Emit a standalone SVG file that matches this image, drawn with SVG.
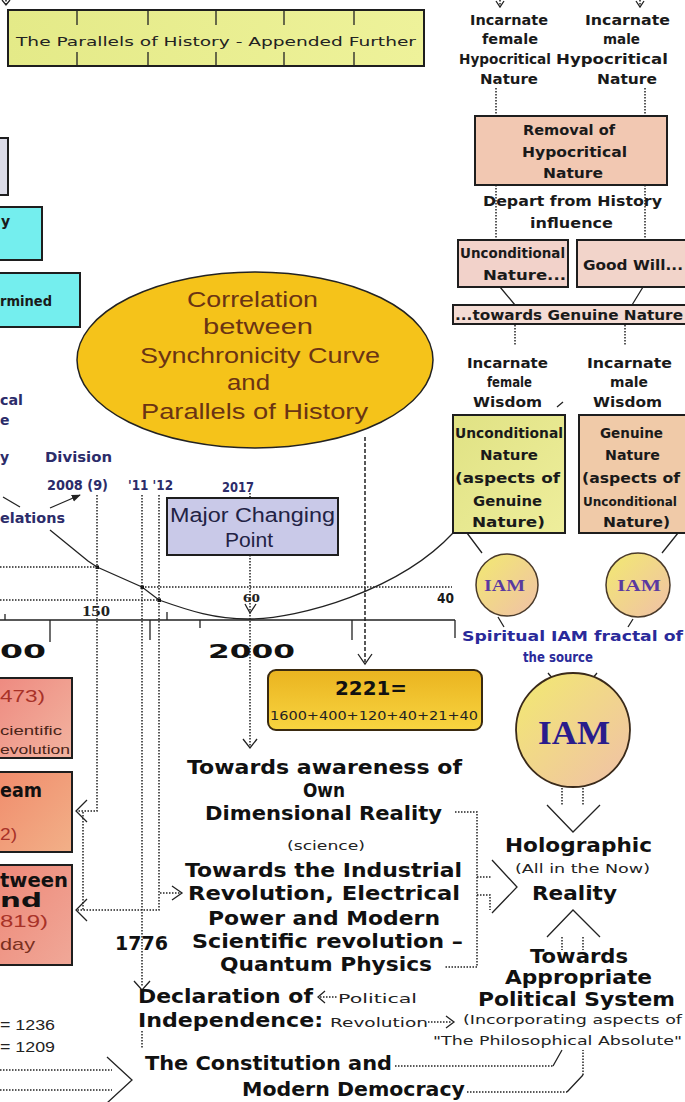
<svg xmlns="http://www.w3.org/2000/svg" width="685" height="1102" viewBox="0 0 685 1102">
<defs>
<style>
.bx{stroke:#1e1e1e;stroke-width:2}
.dot{fill:none;stroke:#222;stroke-width:1.5;stroke-dasharray:1.5 1.5}
.dash{fill:none;stroke:#222;stroke-width:1.5;stroke-dasharray:4 2}
.ln{fill:none;stroke:#222;stroke-width:1.3}
.hv{font-family:"DejaVu Sans",sans-serif;font-weight:bold;fill:#111;font-size:19px}
.gb{font-family:"DejaVu Sans",sans-serif;font-weight:bold;font-size:14px;fill:#1a1a1a}
.rg{font-family:"DejaVu Sans",sans-serif;font-size:13px;fill:#222}
.ar{font-family:"Liberation Sans",Arial,sans-serif}
.el{font-family:"Liberation Sans",Arial,sans-serif;font-size:22px;fill:#6a3414}
.nv{fill:#2c2c6a}
.bl{fill:#2a2a9a}
.rd{fill:#a83228}
.iam{font-family:"Liberation Serif","DejaVu Serif",serif;font-weight:bold}
</style>
<linearGradient id="gBanner" x1="0" y1="0" x2="1" y2="0"><stop offset="0" stop-color="#e4ea88"/><stop offset="1" stop-color="#eef29a"/></linearGradient>
<linearGradient id="gGold" x1="0" y1="0" x2="0" y2="1"><stop offset="0" stop-color="#eab420"/><stop offset="1" stop-color="#f8d440"/></linearGradient>
<linearGradient id="gA" x1="0" y1="0" x2="1" y2="1"><stop offset="0" stop-color="#ee8a80"/><stop offset="1" stop-color="#f2b4a0"/></linearGradient>
<linearGradient id="gB" x1="0" y1="0" x2="1" y2="1"><stop offset="0" stop-color="#f08c6c"/><stop offset="1" stop-color="#f2b088"/></linearGradient>
<linearGradient id="gC" x1="0" y1="0" x2="1" y2="1"><stop offset="0" stop-color="#ee8878"/><stop offset="1" stop-color="#f0a898"/></linearGradient>
<linearGradient id="gIam" x1="0" y1="0" x2="1" y2="1"><stop offset="0" stop-color="#f2ea70"/><stop offset="1" stop-color="#f0c0a8"/></linearGradient>
<linearGradient id="gGreen" x1="0" y1="0" x2="1" y2="1"><stop offset="0" stop-color="#e0e284"/><stop offset="1" stop-color="#eeee9c"/></linearGradient>
<marker id="ah" viewBox="0 0 10 10" refX="9" refY="5" markerWidth="7" markerHeight="7" orient="auto"><path d="M0,1 L10,5 L0,9 Z" fill="#222"/></marker>
</defs>
<rect width="685" height="1102" fill="#ffffff"/>

<g id="connectors">
  <path class="dot" d="M6,0 V4 M500,0 V6 M640,0 V6"/>
  <path class="ln" d="M2,0 L6,5 L10,0 M496,1 L500,7 L504,1 M636,1 L640,7 L644,1"/>
  <path class="dot" d="M496,88 V116 M645,88 V116 M496,185 V240 M645,185 V240 M515,325 V345 M625,325 V345"/>
  <path class="ln" d="M500,287 L515,305 M643,287 L632,305 M557,407 L563,402"/>
  <path class="ln" d="M467,533 L482,553 M678,533 L662,553 M498,617 L504,627 M633,619 L628,627 M548,673 L553,679 M597,673 L592,679"/>
  <path class="ln" d="M3,497 L20,507"/>
  <path class="ln" d="M50,530 L88,561 L97,567 L142,587 L159,600 C190,611 215,619 248,619 C300,619 400,590 453,533"/>
  <path class="ln" d="M50,508 L80,495" marker-end="url(#ah)"/>
  <rect x="95.5" y="565.5" width="3.5" height="3.5" fill="#111"/>
  <rect x="140.5" y="585.5" width="3.5" height="3.5" fill="#111"/>
  <rect x="157.5" y="598.5" width="3.5" height="3.5" fill="#111"/>
  <path class="dot" d="M0,567 H97 M142,587 H452 M0,600 H159"/>
  <path class="ln" stroke-width="1.6" d="M0,620 H455 M5,614 V620 M50,620 V642 M150,620 V640 M167,612 V620 M200,620 V628 M352,620 V640 M455,620 V638"/>
  <path class="dot" d="M97,495 V811 H76 M83,812 V910 M142,495 V987 M159,495 V910 H76 M160,893 H181 M250,493 V498 M250,555 V746"/>
  <path class="ln" d="M87,800 L76,811 L87,822 M87,899 L76,910 L87,921 M172,886 L182,893 L172,900 M134,981 L142,990 L150,981 M243,739 L250,748 L257,739 M245,604 L250,613 L256,604"/>
  <path class="dash" d="M365,437 V662"/>
  <path class="ln" d="M358,654 L365,664 L372,654"/>
  <path class="dot" d="M455,812 H477 V967 H445 M477,877 H492 M477,895 H490 V910"/>
  <path class="ln" d="M492,860 L517,887 L492,913"/>
  <path class="dot" d="M562,788 V805 M583,788 V805 M562,937 V950 M583,937 V950"/>
  <path class="ln" d="M547,805 L573,832 L600,805 M547,937 L573,910 L600,937"/>
  <path class="dot" d="M142,1031 V1048 M320,997 H338 M428,1022 H452 M395,1066 H553 M467,1092 H567 M583,1075 V1050 M0,1070 H112 M0,1090 H112"/>
  <path class="ln" d="M325,991 L318,997 L325,1003 M446,1016 L454,1022 L446,1028 M553,1066 L562,1050 M567,1092 L583,1075 M107,1057 L132,1080 L107,1103"/>
</g>

<g id="banner">
  <rect class="bx" x="8" y="10" width="416" height="56" fill="url(#gBanner)"/>
  <path class="ln" stroke-width="1.6" d="M77,10 V25 M148,10 V25 M216,10 V25 M284,10 V25 M354,10 V25 M77,52 V66 M148,52 V66 M216,52 V66 M284,52 V66 M354,52 V66"/>
  <text class="rg" x="16" y="46" font-size="16" textLength="400" lengthAdjust="spacingAndGlyphs" fill="#1a1a1a">The Parallels of History - Appended Further</text>
</g>

<g id="hyp-female">
  <text class="gb" x="470" y="25" textLength="78" lengthAdjust="spacingAndGlyphs">Incarnate</text>
  <text class="gb" x="482" y="44" textLength="56" lengthAdjust="spacingAndGlyphs">female</text>
  <text class="gb" x="459" y="64" textLength="92" lengthAdjust="spacingAndGlyphs">Hypocritical</text>
  <text class="gb" x="480" y="84" textLength="58" lengthAdjust="spacingAndGlyphs">Nature</text>
</g>
<g id="hyp-male">
  <text class="gb" x="585" y="25" textLength="85" lengthAdjust="spacingAndGlyphs">Incarnate</text>
  <text class="gb" x="603" y="44" textLength="37" lengthAdjust="spacingAndGlyphs">male</text>
  <text class="gb" x="556" y="64" textLength="112" lengthAdjust="spacingAndGlyphs">Hypocritical</text>
  <text class="gb" x="597" y="84" textLength="60" lengthAdjust="spacingAndGlyphs">Nature</text>
</g>

<g id="removal">
  <rect class="bx" x="475" y="116" width="192" height="69" fill="#f2c8b2"/>
  <text class="gb" x="523" y="135" textLength="92" lengthAdjust="spacingAndGlyphs" fill="#3a1e1e">Removal of</text>
  <text class="gb" x="522" y="157" textLength="105" lengthAdjust="spacingAndGlyphs" fill="#3a1e1e">Hypocritical</text>
  <text class="gb" x="543" y="178" textLength="60" lengthAdjust="spacingAndGlyphs" fill="#3a1e1e">Nature</text>
</g>
<g id="depart">
  <text class="gb" x="483" y="206" textLength="179" lengthAdjust="spacingAndGlyphs" fill="#34347a">Depart from History</text>
  <text class="gb" x="530" y="228" textLength="83" lengthAdjust="spacingAndGlyphs" fill="#34347a">influence</text>
</g>
<g id="uncond-small">
  <rect class="bx" x="458" y="240" width="110" height="47" fill="#f2d2ca"/>
  <text class="gb" x="460" y="258" font-size="13" textLength="105" lengthAdjust="spacingAndGlyphs" fill="#2a1a1a">Unconditional</text>
  <text class="gb" x="483" y="280" font-size="13" textLength="83" lengthAdjust="spacingAndGlyphs" fill="#2a1a1a">Nature...</text>
</g>
<g id="goodwill">
  <rect class="bx" x="577" y="240" width="115" height="47" fill="#f2d4ca"/>
  <text class="gb" x="583" y="270" font-size="13" textLength="100" lengthAdjust="spacingAndGlyphs" fill="#2a1a1a">Good Will...</text>
</g>
<g id="towards-genuine">
  <rect class="bx" x="453" y="305" width="240" height="19" fill="#f4dcd4"/>
  <text class="gb" x="455" y="320" font-size="13" textLength="228" lengthAdjust="spacingAndGlyphs" fill="#4a1010">...towards Genuine Nature</text>
</g>
<g id="wisdom-female">
  <text class="gb" x="467" y="368" textLength="81" lengthAdjust="spacingAndGlyphs">Incarnate</text>
  <text class="gb" x="487" y="387" textLength="45" lengthAdjust="spacingAndGlyphs">female</text>
  <text class="gb" x="473" y="407" textLength="69" lengthAdjust="spacingAndGlyphs">Wisdom</text>
</g>
<g id="wisdom-male">
  <text class="gb" x="587" y="368" textLength="85" lengthAdjust="spacingAndGlyphs">Incarnate</text>
  <text class="gb" x="610" y="387" textLength="38" lengthAdjust="spacingAndGlyphs">male</text>
  <text class="gb" x="593" y="407" textLength="69" lengthAdjust="spacingAndGlyphs">Wisdom</text>
</g>
<g id="uncond-nature">
  <rect class="bx" x="453" y="415" width="112" height="118" fill="url(#gGreen)"/>
  <g class="gb" font-size="13" fill="#2a1a1a">
  <text x="455" y="438" textLength="108" lengthAdjust="spacingAndGlyphs">Unconditional</text>
  <text x="480" y="460" textLength="58" lengthAdjust="spacingAndGlyphs">Nature</text>
  <text x="455" y="483" textLength="105" lengthAdjust="spacingAndGlyphs">(aspects of</text>
  <text x="473" y="506" textLength="69" lengthAdjust="spacingAndGlyphs">Genuine</text>
  <text x="472" y="527" textLength="73" lengthAdjust="spacingAndGlyphs">Nature)</text>
  </g>
</g>
<g id="genuine-nature">
  <rect class="bx" x="579" y="415" width="112" height="118" fill="#f0caa8"/>
  <g class="gb" font-size="13" fill="#2a1a1a">
  <text x="600" y="438" textLength="63" lengthAdjust="spacingAndGlyphs">Genuine</text>
  <text x="605" y="460" textLength="55" lengthAdjust="spacingAndGlyphs">Nature</text>
  <text x="582" y="483" textLength="98" lengthAdjust="spacingAndGlyphs">(aspects of</text>
  <text x="583" y="506" font-size="12" textLength="94" lengthAdjust="spacingAndGlyphs">Unconditional</text>
  <text x="603" y="527" textLength="67" lengthAdjust="spacingAndGlyphs">Nature)</text>
  </g>
</g>
<g id="iam-left">
  <circle cx="507" cy="585" r="31" fill="url(#gIam)" stroke="#4a3a2a" stroke-width="1.5"/>
  <text class="iam" x="484" y="591" font-size="16" textLength="41" lengthAdjust="spacingAndGlyphs" fill="#5a3aa0">IAM</text>
</g>
<g id="iam-right">
  <circle cx="638" cy="585" r="32" fill="url(#gIam)" stroke="#4a3a2a" stroke-width="1.5"/>
  <text class="iam" x="617" y="591" font-size="16" textLength="44" lengthAdjust="spacingAndGlyphs" fill="#5a3aa0">IAM</text>
</g>
<g id="spiritual">
  <text class="gb bl" x="462" y="641" textLength="221" lengthAdjust="spacingAndGlyphs">Spiritual IAM fractal of</text>
  <text class="gb bl" x="523" y="662" textLength="70" lengthAdjust="spacingAndGlyphs">the source</text>
</g>
<g id="iam-big">
  <circle cx="573" cy="730" r="57" fill="url(#gIam)" stroke="#3a2a1a" stroke-width="1.8"/>
  <text class="iam" x="538" y="744" font-size="34" textLength="72" lengthAdjust="spacingAndGlyphs" fill="#2a1c8c">IAM</text>
</g>
<g id="holographic">
  <text class="hv" x="505" y="852" textLength="147" lengthAdjust="spacingAndGlyphs">Holographic</text>
  <text class="rg" x="515" y="873" textLength="135" lengthAdjust="spacingAndGlyphs">(All in the Now)</text>
  <text class="hv" x="532" y="900" textLength="85" lengthAdjust="spacingAndGlyphs">Reality</text>
</g>
<g id="political-system">
  <text class="hv" x="530" y="963" textLength="98" lengthAdjust="spacingAndGlyphs">Towards</text>
  <text class="hv" x="505" y="984" textLength="147" lengthAdjust="spacingAndGlyphs">Appropriate</text>
  <text class="hv" x="478" y="1006" textLength="197" lengthAdjust="spacingAndGlyphs">Political System</text>
  <text class="rg" x="463" y="1024" textLength="219" lengthAdjust="spacingAndGlyphs">(Incorporating aspects of</text>
  <text class="rg" x="433" y="1045" textLength="249" lengthAdjust="spacingAndGlyphs">"The Philosophical Absolute"</text>
</g>

<g id="left-boxes-top">
  <rect class="bx" x="-2" y="138" width="10" height="57" fill="#dcdce8"/>
  <rect class="bx" x="-2" y="207" width="44" height="53" fill="#74eeee"/>
  <text class="gb" x="1" y="226" fill="#1a1a4a">y</text>
  <rect class="bx" x="-2" y="273" width="82" height="54" fill="#74eeee"/>
  <text class="gb" x="0" y="306" font-size="13" textLength="52" lengthAdjust="spacingAndGlyphs" fill="#1a1a4a">rmined</text>
</g>
<g id="left-labels">
  <text class="gb nv" x="0" y="405" textLength="23" lengthAdjust="spacingAndGlyphs">cal</text>
  <text class="gb nv" x="0" y="425">e</text>
  <text class="gb nv" x="0" y="462">y</text>
  <text class="gb nv" x="0" y="523" textLength="65" lengthAdjust="spacingAndGlyphs">elations</text>
  <text class="gb nv" x="45" y="462" textLength="67" lengthAdjust="spacingAndGlyphs">Division</text>
  <text class="gb nv" x="47" y="490" font-size="13" textLength="61" lengthAdjust="spacingAndGlyphs">2008 (9)</text>
  <text class="gb nv" x="128" y="490" font-size="13" textLength="45" lengthAdjust="spacingAndGlyphs">'11 '12</text>
  <text class="gb nv" x="222" y="492" font-size="13" textLength="32" lengthAdjust="spacingAndGlyphs">2017</text>
</g>
<g id="correlation">
  <ellipse cx="255" cy="360" rx="178" ry="88" fill="#f5c31a" stroke="#222" stroke-width="1.5"/>
  <text class="el" x="187" y="307" textLength="131" lengthAdjust="spacingAndGlyphs">Correlation</text>
  <text class="el" x="203" y="334" textLength="110" lengthAdjust="spacingAndGlyphs">between</text>
  <text class="el" x="140" y="363" textLength="240" lengthAdjust="spacingAndGlyphs">Synchronicity Curve</text>
  <text class="el" x="227" y="390" textLength="43" lengthAdjust="spacingAndGlyphs">and</text>
  <text class="el" x="141" y="419" textLength="227" lengthAdjust="spacingAndGlyphs">Parallels of History</text>
</g>
<g id="major-changing">
  <rect class="bx" x="167" y="498" width="171" height="57" fill="#c9c9e8"/>
  <text class="ar" x="170" y="522" font-size="20" textLength="165" lengthAdjust="spacingAndGlyphs" fill="#222244">Major Changing</text>
  <text class="ar" x="225" y="547" font-size="20" textLength="48" lengthAdjust="spacingAndGlyphs" fill="#222244">Point</text>
</g>
<g id="axis-labels">
  <text class="iam" x="82" y="616" font-size="15" font-weight="normal" textLength="28" lengthAdjust="spacingAndGlyphs" fill="#222">150</text>
  <text class="iam" x="243" y="602" font-size="13" font-weight="normal" textLength="17" lengthAdjust="spacingAndGlyphs" fill="#222">60</text>
  <text class="gb" x="437" y="603" textLength="17" lengthAdjust="spacingAndGlyphs">40</text>
  <text class="hv" x="0" y="658" font-size="30" textLength="46" lengthAdjust="spacingAndGlyphs">00</text>
  <text class="hv" x="208" y="658" font-size="30" textLength="87" lengthAdjust="spacingAndGlyphs">2000</text>
</g>
<g id="box-1473">
  <rect class="bx" x="-2" y="678" width="74" height="80" fill="url(#gA)"/>
  <text class="ar rd" x="0" y="702" font-size="17" textLength="45" lengthAdjust="spacingAndGlyphs">473)</text>
  <text class="ar" x="0" y="735" font-size="13" textLength="62" lengthAdjust="spacingAndGlyphs" fill="#4a2418">cientific</text>
  <text class="ar" x="0" y="754" font-size="13" textLength="70" lengthAdjust="spacingAndGlyphs" fill="#4a2418">evolution</text>
</g>
<g id="box-dream">
  <rect class="bx" x="-2" y="772" width="74" height="80" fill="url(#gB)"/>
  <text class="hv" x="0" y="797" font-size="17" textLength="42" lengthAdjust="spacingAndGlyphs">eam</text>
  <text class="ar rd" x="0" y="840" font-size="17" textLength="17" lengthAdjust="spacingAndGlyphs">2)</text>
</g>
<g id="box-1819">
  <rect class="bx" x="-2" y="865" width="74" height="100" fill="url(#gC)"/>
  <text class="hv" x="0" y="887" font-size="17" textLength="68" lengthAdjust="spacingAndGlyphs">tween</text>
  <text class="hv" x="0" y="907" font-size="17" textLength="42" lengthAdjust="spacingAndGlyphs">nd</text>
  <text class="ar rd" x="0" y="927" font-size="17" textLength="48" lengthAdjust="spacingAndGlyphs">819)</text>
  <text class="ar" x="0" y="950" font-size="17" textLength="35" lengthAdjust="spacingAndGlyphs" fill="#7a3020">day</text>
</g>
<g id="sums">
  <text class="ar" x="0" y="1030" font-size="14" textLength="55" lengthAdjust="spacingAndGlyphs" fill="#222">= 1236</text>
  <text class="ar" x="0" y="1052" font-size="14" textLength="55" lengthAdjust="spacingAndGlyphs" fill="#222">= 1209</text>
</g>
<g id="box-2221">
  <rect x="268" y="670" width="214" height="60" rx="8" fill="url(#gGold)" stroke="#3a2a10" stroke-width="2"/>
  <text class="hv" x="335" y="695" font-size="20" textLength="72" lengthAdjust="spacingAndGlyphs" fill="#7a1212">2221=</text>
  <text class="rg" x="270" y="720" font-size="11" textLength="208" lengthAdjust="spacingAndGlyphs" fill="#7a1212">1600+400+120+40+21+40</text>
</g>
<g id="awareness">
  <text class="hv" x="187" y="774" textLength="275" lengthAdjust="spacingAndGlyphs">Towards awareness of</text>
  <text class="hv" x="303" y="797" textLength="42" lengthAdjust="spacingAndGlyphs">Own</text>
  <text class="hv" x="205" y="820" textLength="237" lengthAdjust="spacingAndGlyphs">Dimensional Reality</text>
</g>
<g id="industrial">
  <text class="rg" x="287" y="850" textLength="78" lengthAdjust="spacingAndGlyphs">(science)</text>
  <text class="hv" x="185" y="877" textLength="277" lengthAdjust="spacingAndGlyphs">Towards the Industrial</text>
  <text class="hv" x="188" y="900" textLength="272" lengthAdjust="spacingAndGlyphs">Revolution, Electrical</text>
  <text class="hv" x="208" y="925" textLength="232" lengthAdjust="spacingAndGlyphs">Power and Modern</text>
  <text class="hv" x="192" y="948" textLength="271" lengthAdjust="spacingAndGlyphs">Scientific revolution –</text>
  <text class="hv" x="220" y="971" textLength="212" lengthAdjust="spacingAndGlyphs">Quantum Physics</text>
</g>
<g id="year-1776">
  <text class="hv" x="115" y="950" textLength="53" lengthAdjust="spacingAndGlyphs">1776</text>
</g>
<g id="declaration">
  <text class="hv" x="138" y="1003" textLength="175" lengthAdjust="spacingAndGlyphs">Declaration of</text>
  <text class="hv" x="138" y="1027" textLength="185" lengthAdjust="spacingAndGlyphs">Independence:</text>
  <text class="rg" x="338" y="1003" textLength="79" lengthAdjust="spacingAndGlyphs">Political</text>
  <text class="rg" x="330" y="1027" textLength="98" lengthAdjust="spacingAndGlyphs">Revolution</text>
</g>
<g id="constitution">
  <text class="hv" x="145" y="1070" textLength="247" lengthAdjust="spacingAndGlyphs">The Constitution and</text>
  <text class="hv" x="242" y="1096" textLength="223" lengthAdjust="spacingAndGlyphs">Modern Democracy</text>
</g>
</svg>
